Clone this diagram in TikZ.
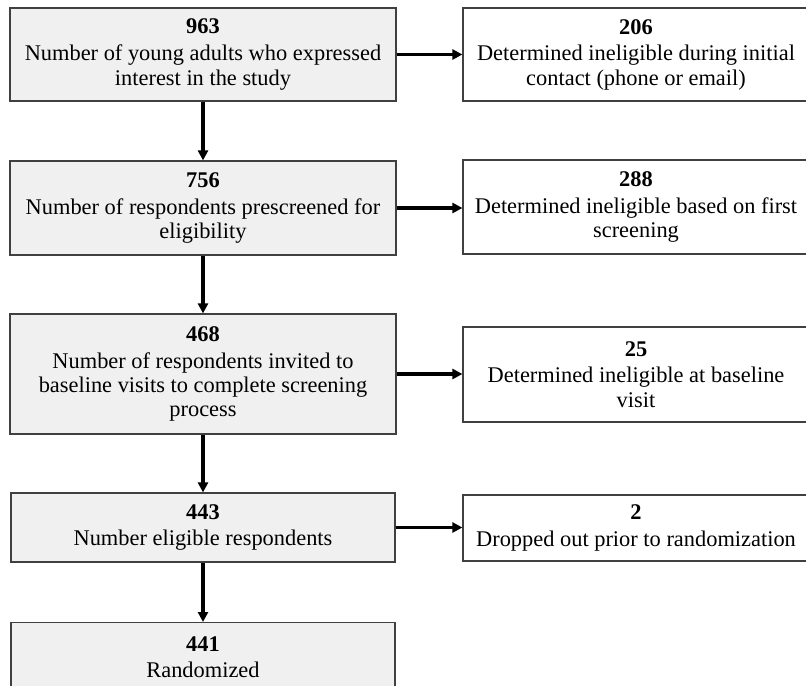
\documentclass[tikz,border=0pt]{standalone}
\usepackage{fontspec}
\setmainfont{Liberation Serif}
\usetikzlibrary{arrows.meta}
\begin{document}
\begin{tikzpicture}[x=0.75pt,y=-0.75pt,
  flowbox/.style={draw=black!75, line width=0.9pt, fill=gray!12, align=center, inner sep=0pt,
    font=\fontsize{16.8}{18.3}\selectfont},
  sidebox/.style={flowbox, fill=white, minimum width=259.5pt},
  arr/.style={line width=2.3pt, -{Triangle[length=7.5pt,width=7.5pt]}}]
\clip (0,0) rectangle (806,685);
% left column
\node[flowbox, minimum width=289.5pt, minimum height=69.75pt] (b1) at (203,54.5)
  {\textbf{963}\\[1.7pt]Number of young adults who expressed\\interest in the study};
\node[flowbox, minimum width=289.5pt, minimum height=70.5pt] (b2) at (203,208)
  {\textbf{756}\\[1.7pt]Number of respondents prescreened for\\eligibility};
\node[flowbox, minimum width=289.5pt, minimum height=90pt] (b3) at (203,374)
  {\textbf{468}\\[1.7pt]Number of respondents invited to\\baseline visits to complete screening\\process};
\node[flowbox, minimum width=288pt, minimum height=51.75pt] (b4) at (203,527.5)
  {\textbf{443}\\[1.7pt]Number eligible respondents};
\node[flowbox, minimum width=288pt, minimum height=51.75pt, anchor=north] (b5) at (203,622)
  {\textbf{441}\\[1.7pt]Randomized};
% right column
\node[sidebox, minimum height=69.75pt] (r1) at (636,54.5)
  {\textbf{206}\\[1.7pt]Determined ineligible during initial\\contact (phone or email)};
\node[sidebox, minimum height=70.5pt] (r2) at (636,207)
  {\textbf{288}\\[1.7pt]Determined ineligible based on first\\screening};
\node[sidebox, minimum height=71.25pt] (r3) at (636,374.5)
  {\textbf{25}\\[1.7pt]Determined ineligible at baseline\\visit};
\node[sidebox, minimum height=49.5pt] (r4) at (636,528)
  {\textbf{2}\\[1.7pt]Dropped out prior to randomization};
% connectors
\draw[arr] (b1.south) -- (b2.north);
\draw[arr] (b2.south) -- (b3.north);
\draw[arr] (b3.south) -- (b4.north);
\draw[arr] (b4.south) -- (b5.north);
\draw[arr] (b1.east) -- (r1.west |- b1.east);
\draw[arr] (b2.east) -- (r2.west |- b2.east);
\draw[arr] (b3.east) -- (r3.west |- b3.east);
\draw[arr] (b4.east) -- (r4.west |- b4.east);
\end{tikzpicture}
\end{document}
